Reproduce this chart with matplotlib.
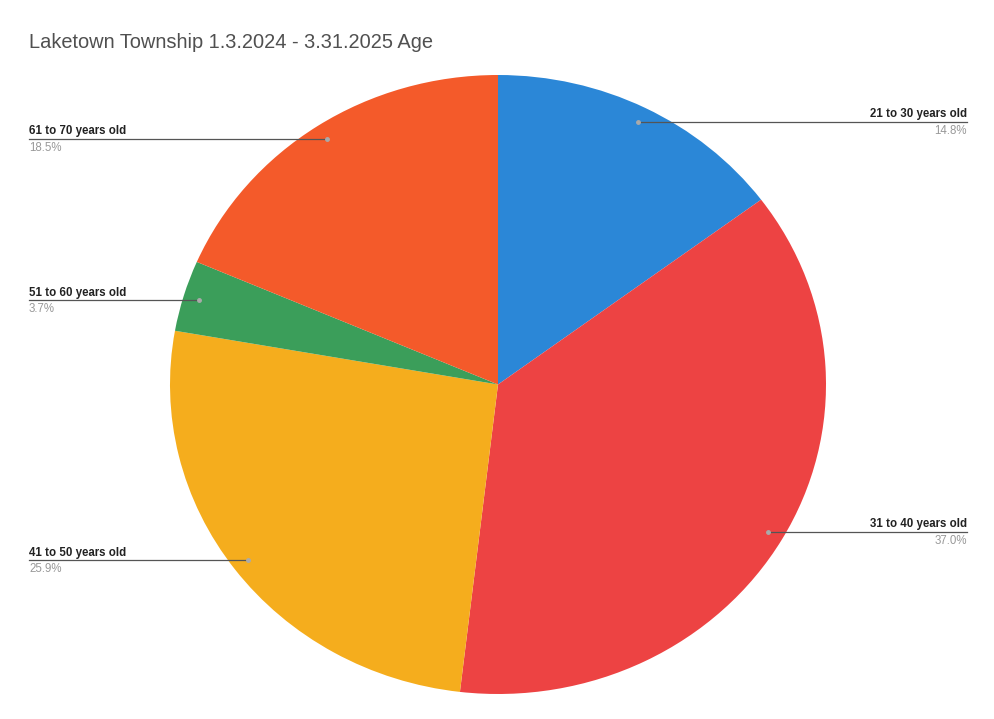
import numpy as np
import matplotlib
matplotlib.use('Agg')
import matplotlib.pyplot as plt

plt.rcParams['font.family'] = ['Liberation Sans', 'DejaVu Sans']

# data (counts out of 27 respondents)
age_groups = ['21 to 30 years old', '31 to 40 years old', '41 to 50 years old',
              '51 to 60 years old', '61 to 70 years old']
counts = [4, 10, 7, 1, 5]
percent_labels = ['14.8%', '37.0%', '25.9%', '3.7%', '18.5%']
colors = ['#2b87d7', '#ed4343', '#f5ad1d', '#3b9e5a', '#f45a2a']

W, H = 994, 719
fig = plt.figure(figsize=(W / 100, H / 100), dpi=100)

# pie area in pixels (slightly wider than tall, as in the scan)
cx, cy, rx, ry = 498, 384.5, 328, 309.5
ax = fig.add_axes([(cx - rx) / W, (H - cy - ry) / H, 2 * rx / W, 2 * ry / H])
wedges, _ = ax.pie(counts, colors=colors, startangle=90, counterclock=False,
                   radius=1, wedgeprops=dict(linewidth=0))
ax.set_aspect('auto')
ax.set_xlim(-1, 1)
ax.set_ylim(-1, 1)
ax.set_axis_off()

fig.text(29 / W, 1 - 43 / H, 'Laketown Township 1.3.2024 - 3.31.2025 Age',
         fontsize=14.4, color='#505050', va='center', ha='left')

# leader lines + labels
total = float(sum(counts))
start = 90.0
for name, n, pct in zip(age_groups, counts, percent_labels):
    frac = n / total
    mid = np.deg2rad(start - frac * 360 / 2)
    start -= frac * 360
    px = 0.95 * np.cos(mid)
    py = 0.95 * np.sin(mid)
    # convert to figure pixels
    fx = cx + px * rx
    fy = cy - py * ry
    if px > 0:
        tx, ha = 967, 'right'
    else:
        tx, ha = 29, 'left'
    fig.add_artist(plt.Line2D([fx / W, tx / W], [1 - fy / H, 1 - fy / H],
                              color='#555555', lw=0.9,
                              transform=fig.transFigure))
    fig.add_artist(plt.Line2D([fx / W], [1 - fy / H], marker='o', ms=2.5,
                              color='#aaaaaa', transform=fig.transFigure))
    fig.text(tx / W, 1 - (fy - 1.5) / H, name, fontsize=8.3,
             fontweight='bold', color='#222222', ha=ha, va='bottom')
    fig.text(tx / W, 1 - (fy + 3) / H, pct, fontsize=8.3, color='#999999',
             ha=ha, va='top')

fig.savefig('out.png', dpi=100, facecolor='white')
